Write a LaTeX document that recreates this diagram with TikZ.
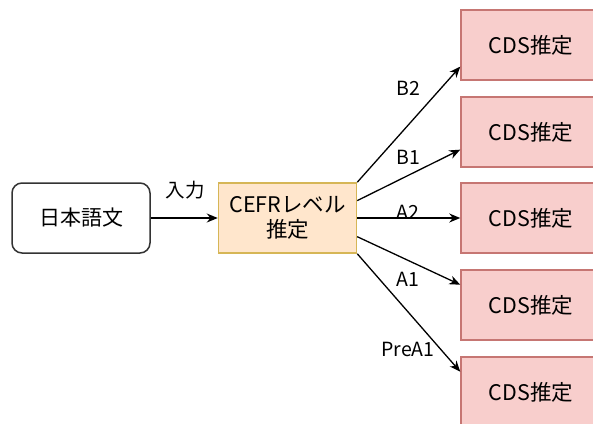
\documentclass[tikz,border=0pt]{standalone}
\usepackage{fontspec}
\setmainfont{Noto Sans CJK JP}
\usetikzlibrary{arrows.meta}
\definecolor{levelfill}{HTML}{FFE6CC}
\definecolor{leveldraw}{HTML}{D6B656}
\definecolor{cdsfill}{HTML}{F8CECC}
\definecolor{cdsdraw}{HTML}{B85450}

\begin{document}
\begin{tikzpicture}[
		x=1pt, y=-1pt,
		TextBox/.style={draw=black!80, fill=white, rounded corners=10pt, line width=1.5pt, minimum width=138pt, minimum height=70pt, font=\fontsize{21}{25}\selectfont},
		LevelBox/.style={draw=leveldraw, fill=levelfill, line width=1.5pt, minimum width=138pt, minimum height=70pt, align=center, font=\fontsize{21.5}{25}\selectfont},
		CdsBox/.style={draw=cdsdraw!80, fill=cdsfill, line width=1.5pt, minimum width=140pt, minimum height=70pt, font=\fontsize{21.5}{25}\selectfont},
		Edge/.style={-{Stealth[length=11pt, width=9pt]}, line width=1.3pt},
		EdgeLabel/.style={font=\fontsize{19.5}{23}\selectfont}
		]
		
		\clip (0,0) rectangle (593,423);
		
		\node[TextBox] (Text) at (81,218) {日本語文};
		\node[LevelBox] (Cefr) at (287.5,218) {CEFRレベル\\推定};
		
		\draw[Edge] (Text) -- (Cefr);
		\node[EdgeLabel] (Input) at (185,190) {入力};
		
		% one CDS box per level
		\foreach \lvl/\y in {B2/45, B1/132, A2/218, A1/305, PreA1/392}
		\node[CdsBox] (Cds\lvl) at (531,\y) {CDS推定};
		
		\foreach \lvl/\from/\to/\ly in {B2/north east/197/88, B1/14.5/194/157, A2/east/west/212, A1/-15/164/279, PreA1/south east/164/349}
		{
			\draw[Edge] (Cefr.\from) -- (Cds\lvl.\to);
			\node[EdgeLabel] (Label\lvl) at (408,\ly) {\lvl};
		}
		
\end{tikzpicture}
\end{document}
